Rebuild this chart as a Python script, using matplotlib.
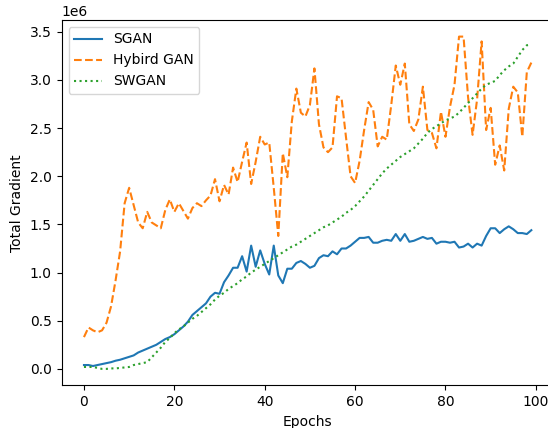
import numpy as np
import matplotlib
matplotlib.use("Agg")
import matplotlib.pyplot as plt

epochs = np.arange(100)

sgan = [0.04, 0.04, 0.03, 0.04, 0.05, 0.06, 0.07, 0.085, 0.095, 0.11,
        0.125, 0.14, 0.17, 0.19, 0.21, 0.23, 0.25, 0.28, 0.31, 0.33,
        0.36, 0.40, 0.44, 0.49, 0.56, 0.60, 0.64, 0.68, 0.75, 0.79,
        0.78, 0.90, 0.97, 1.05, 1.05, 1.17, 1.01, 1.28, 1.06, 1.23,
        1.09, 0.98, 1.28, 0.97, 0.89, 1.04, 1.04, 1.10, 1.12, 1.09,
        1.05, 1.07, 1.15, 1.18, 1.17, 1.22, 1.19, 1.25, 1.25, 1.28,
        1.32, 1.36, 1.36, 1.37, 1.31, 1.31, 1.33, 1.34, 1.33, 1.40,
        1.33, 1.40, 1.32, 1.33, 1.35, 1.37, 1.35, 1.36, 1.30, 1.32,
        1.32, 1.31, 1.32, 1.26, 1.27, 1.30, 1.26, 1.30, 1.28, 1.38,
        1.46, 1.46, 1.41, 1.45, 1.48, 1.45, 1.41, 1.41, 1.40, 1.44]

hybrid_gan = [0.33, 0.43, 0.40, 0.38, 0.40, 0.48, 0.65, 0.92, 1.22, 1.72,
              1.88, 1.70, 1.52, 1.46, 1.63, 1.52, 1.49, 1.46, 1.65, 1.76,
              1.63, 1.72, 1.64, 1.56, 1.67, 1.72, 1.69, 1.75, 1.80, 1.97,
              1.74, 1.91, 1.81, 2.09, 1.94, 2.15, 2.35, 1.92, 2.15, 2.41,
              2.33, 2.35, 1.88, 1.38, 2.24, 1.99, 2.57, 2.91, 2.66, 2.62,
              2.74, 3.12, 2.54, 2.30, 2.25, 2.30, 2.83, 2.81, 2.40, 2.00,
              1.93, 2.16, 2.48, 2.77, 2.69, 2.31, 2.41, 2.38, 2.74, 3.15,
              2.95, 3.17, 2.54, 2.47, 2.59, 2.93, 2.48, 2.45, 2.29, 2.67,
              2.41, 2.72, 2.95, 3.45, 3.45, 2.82, 2.43, 2.80, 3.40, 2.48,
              2.71, 2.12, 2.32, 2.06, 2.70, 2.93, 2.87, 2.41, 3.08, 3.18]

swgan = [0.02, 0.02, 0.02, 0.01, 0.0, 0.0, 0.005, 0.005, 0.01, 0.015,
         0.02, 0.04, 0.05, 0.06, 0.07, 0.12, 0.17, 0.22, 0.28, 0.32,
         0.37, 0.41, 0.44, 0.48, 0.52, 0.55, 0.59, 0.63, 0.67, 0.72,
         0.76, 0.79, 0.83, 0.86, 0.89, 0.93, 0.96, 1.00, 1.03, 1.06,
         1.09, 1.12, 1.15, 1.18, 1.21, 1.24, 1.27, 1.29, 1.32, 1.35,
         1.38, 1.41, 1.44, 1.47, 1.49, 1.52, 1.55, 1.58, 1.62, 1.65,
         1.69, 1.74, 1.79, 1.85, 1.91, 1.97, 2.03, 2.08, 2.12, 2.16,
         2.20, 2.23, 2.26, 2.29, 2.34, 2.39, 2.45, 2.49, 2.52, 2.55,
         2.58, 2.60, 2.62, 2.66, 2.71, 2.76, 2.81, 2.86, 2.91, 2.95,
         2.97, 2.99, 3.05, 3.10, 3.14, 3.17, 3.24, 3.31, 3.36, 3.37]

scale = 1e6

fig = plt.figure(figsize=(5.48, 4.28), dpi=100)
ax = fig.add_axes([0.1124, 0.0993, 0.898, 0.854])
ax.plot(epochs, np.array(sgan) * scale, '-', label='SGAN')
ax.plot(epochs, np.array(hybrid_gan) * scale, '--', label='Hybird GAN')
ax.plot(epochs, np.array(swgan) * scale, ':', label='SWGAN')
ax.set_xlabel('Epochs')
ax.set_ylabel('Total Gradient')
ax.legend(loc='upper left')
fig.savefig('out.png', dpi=100)
